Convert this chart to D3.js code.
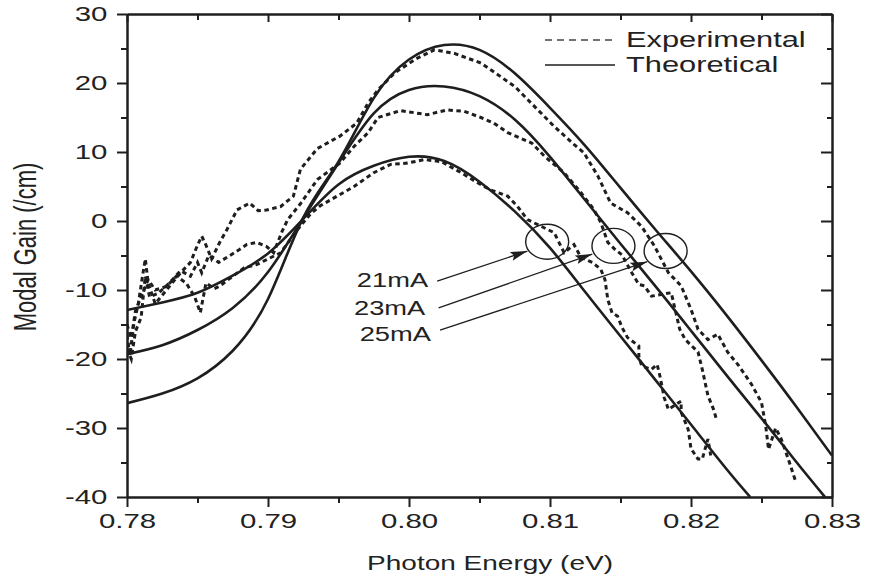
<!DOCTYPE html>
<html>
<head>
<meta charset="utf-8">
<script src="https://cdn.jsdelivr.net/npm/d3@7"></script>
<style>
  body { margin: 0; background: #fff; }
  svg text { font-family: "Liberation Sans", Arial, sans-serif; fill: #222; }
</style>
</head>
<body>
<div id="chart"></div>
<script>
// [photon energy (eV), modal gain (/cm)]
const theory21 = [[0.78,-12.9],[0.7825,-11.8],[0.785,-10.4],[0.7875,-7.9],[0.79,-4.7],[0.7925,0.3],[0.795,5.3],[0.7975,8.0],[0.80,9.3],[0.8025,8.7],[0.805,5.7],[0.8075,1.4],[0.81,-3.9],[0.8125,-10.3],[0.815,-16.7],[0.8175,-23.1],[0.82,-29.5],[0.8225,-35.9],[0.8242,-40]];
const theory23 = [[0.78,-19.3],[0.7825,-18.0],[0.785,-15.8],[0.7875,-12.6],[0.79,-7.4],[0.7925,0.4],[0.795,8.4],[0.7975,15.6],[0.80,19.0],[0.8025,19.5],[0.805,18.1],[0.8075,14.7],[0.81,9.3],[0.8125,3.0],[0.815,-3.3],[0.8175,-9.5],[0.82,-15.9],[0.8225,-22.3],[0.825,-28.6],[0.8275,-35.0],[0.8295,-40]];
const theory25 = [[0.78,-26.4],[0.7825,-25.0],[0.785,-22.8],[0.7875,-18.8],[0.79,-11.3],[0.7925,0.5],[0.795,8.6],[0.7975,17.8],[0.80,23.4],[0.8025,25.5],[0.805,24.8],[0.8075,21.4],[0.81,16.4],[0.8125,10.9],[0.815,4.8],[0.8175,-1.3],[0.82,-7.3],[0.8225,-13.6],[0.825,-20.2],[0.8275,-27.0],[0.83,-34.0]];

const exp21 = [[0.7800,-15],[0.7803,-17],[0.7806,-13],[0.7810,-11],[0.7815,-8.5],[0.7820,-10],[0.7828,-9.5],[0.7835,-8],[0.7842,-9],[0.7848,-11],[0.7852,-13.3],[0.7856,-9],[0.7862,-9.8],[0.7866,-9.4],[0.7875,-8],[0.7883,-6.8],[0.7892,-6.3],[0.7900,-5.5],[0.7909,-4.6],[0.7920,-1.5],[0.7930,1.0],[0.7937,2.2],[0.7949,3.6],[0.7961,5.0],[0.7975,7.0],[0.7987,8.2],[0.7999,8.4],[0.8011,8.9],[0.8023,8.6],[0.8037,7.0],[0.8049,5.5],[0.8058,4.5],[0.8070,3.6],[0.8077,2.1],[0.8084,0.2],[0.8094,-0.8],[0.8103,-1.7],[0.8110,-4.6],[0.8117,-3.4],[0.8122,-5.3],[0.8130,-6],[0.8136,-7],[0.8139,-8.5],[0.8141,-11.4],[0.8144,-13.3],[0.8148,-13.8],[0.8151,-15.4],[0.8155,-16.9],[0.8163,-18.1],[0.8163,-19.6],[0.8165,-21],[0.8172,-21.5],[0.8176,-20.8],[0.8178,-22.5],[0.8181,-25.6],[0.8184,-27.3],[0.8190,-26.5],[0.8193,-26.1],[0.8193,-27.7],[0.8198,-30.2],[0.8200,-33],[0.8205,-34.5],[0.8208,-34.5],[0.8212,-31.6],[0.8214,-34]];
const exp23 = [[0.7800,-18.5],[0.7803,-20],[0.7806,-16],[0.7810,-14],[0.7813,-8],[0.7816,-11],[0.7822,-10.5],[0.7830,-9],[0.7838,-7.2],[0.7845,-8],[0.7850,-6],[0.7853,-7.5],[0.7858,-5],[0.7865,-6],[0.7873,-5],[0.7880,-4.1],[0.7885,-3.4],[0.7892,-3.1],[0.7899,-3.7],[0.7904,-4.6],[0.7910,-1.5],[0.7914,0.2],[0.7923,2.5],[0.7935,6.0],[0.7951,8.4],[0.7961,10.8],[0.7971,12.8],[0.7978,15.0],[0.7994,16.0],[0.8013,15.4],[0.8027,16.1],[0.8039,15.9],[0.8051,15.0],[0.8060,14.2],[0.8070,12.8],[0.8087,11.3],[0.8096,9.4],[0.8110,7.0],[0.8122,4.1],[0.8131,1.7],[0.8136,-0.2],[0.8141,-3.1],[0.8146,-4.1],[0.8151,-4.9],[0.8158,-7.5],[0.8163,-9.2],[0.8167,-9.4],[0.8172,-10.9],[0.8180,-10.6],[0.8186,-10.4],[0.8192,-15.7],[0.8196,-17.2],[0.8205,-19],[0.8208,-21.5],[0.8210,-23.4],[0.8212,-25.3],[0.8216,-27.3],[0.8218,-28.7]];
const exp25 = [[0.7800,-16.5],[0.7802,-19.5],[0.7805,-14.7],[0.7808,-12],[0.7811,-8],[0.7813,-5.5],[0.7815,-9],[0.7820,-12],[0.7826,-10.5],[0.7832,-9],[0.7838,-7.5],[0.7845,-6],[0.7850,-3.5],[0.7853,-2.2],[0.7856,-3.5],[0.7860,-5.5],[0.7866,-3],[0.7871,-1.2],[0.7878,1.6],[0.7887,2.6],[0.7893,1.5],[0.7899,1.6],[0.7909,2.1],[0.7918,3.6],[0.7923,7.5],[0.7935,10.5],[0.7951,12.3],[0.7963,14.2],[0.7971,17.1],[0.7978,19.0],[0.7990,21.5],[0.8005,23.5],[0.8018,24.8],[0.8032,24.3],[0.8051,22.9],[0.8075,19.5],[0.8103,13.7],[0.8117,11.1],[0.8124,9.9],[0.8134,6.5],[0.8143,2.6],[0.8155,1.2],[0.8165,-0.8],[0.8174,-3.6],[0.8184,-7.5],[0.8193,-9.4],[0.8200,-12.8],[0.8205,-15.7],[0.8212,-17.2],[0.8219,-16.4],[0.8226,-19],[0.8234,-21],[0.8243,-23.7],[0.8250,-26.3],[0.8253,-29.7],[0.8255,-33.1],[0.8260,-30],[0.8264,-31.6],[0.8269,-34.5],[0.8274,-37.6]];

const xMajor = [0.78, 0.79, 0.80, 0.81, 0.82, 0.83];
const xMinor = [0.785, 0.795, 0.805, 0.815, 0.825];
const yMajor = [-40, -30, -20, -10, 0, 10, 20, 30];
const yMinor = [-35, -25, -15, -5, 5, 15, 25];

// annotation: current labels, arrow tails/tips and circled points (data units)
const currents = ["21mA", "23mA", "25mA"];
const labelAt = [[0.7963, -9.6], [0.7961, -13.6], [0.7965, -17.4]];
const arrowFrom = [[0.8020, -8.7], [0.8021, -12.6], [0.8022, -15.8]];
const arrowTo = [[0.8084, -4.35], [0.8130, -4.8], [0.8169, -5.9]];
const circled = [[0.8098, -3.0], [0.8145, -3.6], [0.8182, -4.35]];

const width = 873, height = 582;
const SX = 1.4;   // the original lettering is stretched sideways
const x = d3.scaleLinear().domain([0.78, 0.83]).range([127, 832]);
const y = d3.scaleLinear().domain([-40, 30]).range([497, 14]);

const svg = d3.select("#chart").append("svg")
  .attr("width", width).attr("height", height);

svg.append("clipPath").attr("id", "plot")
  .append("rect").attr("x", 127).attr("y", 14).attr("width", 705).attr("height", 483);

const ink = "#1e1e1e";

// axes: bottom / left out-ticks with labels, top / right in-ticks
function drawAxis(gen, tx, ty, vals, size, labels, pad) {
  const g = svg.append("g")
    .attr("transform", "translate(" + tx + "," + ty + ")")
    .call(gen.tickValues(vals).tickSizeInner(size).tickSizeOuter(0)
      .tickPadding(pad || 3)
      .tickFormat(labels ? labels : ""));
  g.select(".domain").attr("stroke", ink).attr("stroke-width", 2);
  g.selectAll(".tick line").attr("stroke", ink).attr("stroke-width", 2);
  g.selectAll("text")
    .attr("transform", "scale(" + SX + ",1)")
    .style("font-size", "21px").attr("fill", ink);
  return g;
}
drawAxis(d3.axisBottom(x), 0, 497, xMajor, 10, d => d.toFixed(2), 6);
drawAxis(d3.axisBottom(x), 0, 497, xMinor, 6, null);
drawAxis(d3.axisTop(x), 0, 14, xMajor, -8, null);
drawAxis(d3.axisTop(x), 0, 14, xMinor, -6, null);
drawAxis(d3.axisLeft(y), 127, 0, yMajor, 10, d => String(d), 4);
drawAxis(d3.axisLeft(y), 127, 0, yMinor, 6, null);
drawAxis(d3.axisRight(y), 832, 0, yMajor, -11, null);
drawAxis(d3.axisRight(y), 832, 0, yMinor, -5, null);

// axis titles
svg.append("text")
  .attr("transform", "translate(490,570) scale(" + SX + ",1)")
  .attr("text-anchor", "middle").style("font-size", "20px")
  .text("Photon Energy (eV)");
svg.append("text")
  .attr("transform", "translate(36,247) scale(" + SX + ",1) rotate(-90)")
  .attr("text-anchor", "middle").style("font-size", "22px")
  .text("Modal Gain (/cm)");

// curves
const plot = svg.append("g").attr("clip-path", "url(#plot)");
const smooth = d3.line().x(d => x(d[0])).y(d => y(d[1])).curve(d3.curveNatural);
const jagged = d3.line().x(d => x(d[0])).y(d => y(d[1]));

[exp21, exp23, exp25].forEach(s => {
  plot.append("path").datum(s)
    .attr("d", jagged)
    .attr("fill", "none").attr("stroke", ink)
    .attr("stroke-width", 3).attr("stroke-dasharray", "4.5,3.5");
});
[theory21, theory23, theory25].forEach(s => {
  plot.append("path").datum(s)
    .attr("d", smooth)
    .attr("fill", "none").attr("stroke", ink).attr("stroke-width", 2.6);
});

// circles round the marked points
svg.selectAll(".ring").data(circled).enter().append("ellipse")
  .attr("cx", d => x(d[0])).attr("cy", d => y(d[1]))
  .attr("rx", 21.5).attr("ry", 17.5)
  .attr("fill", "none").attr("stroke", ink).attr("stroke-width", 1.4);

// arrows
svg.append("defs").append("marker")
  .attr("id", "head").attr("markerUnits", "userSpaceOnUse")
  .attr("markerWidth", 18).attr("markerHeight", 10)
  .attr("refX", 17).attr("refY", 4.5).attr("orient", "auto")
  .append("path").attr("d", "M0,0 L17,4.5 L0,9 L3,4.5 Z").attr("fill", ink);

svg.selectAll(".arrow").data(arrowFrom).enter().append("line")
  .attr("x1", d => x(d[0])).attr("y1", d => y(d[1]))
  .attr("x2", (d, i) => x(arrowTo[i][0])).attr("y2", (d, i) => y(arrowTo[i][1]))
  .attr("stroke", ink).attr("stroke-width", 1.3)
  .attr("marker-end", "url(#head)");

svg.selectAll(".cur").data(currents).enter().append("text")
  .attr("transform", (d, i) => "translate(" + x(labelAt[i][0]) + "," + y(labelAt[i][1]) + ") scale(" + SX + ",1)")
  .style("font-size", "19.5px")
  .text(d => d);

// legend
const legend = svg.append("g");
legend.append("line").attr("x1", 545).attr("x2", 615).attr("y1", 40).attr("y2", 40)
  .attr("stroke", "#444").attr("stroke-width", 1.6).attr("stroke-dasharray", "7,5");
legend.append("line").attr("x1", 545).attr("x2", 615).attr("y1", 65).attr("y2", 65)
  .attr("stroke", ink).attr("stroke-width", 1.6);
legend.append("text").attr("transform", "translate(626,47) scale(" + SX + ",1)")
  .style("font-size", "22px").text("Experimental");
legend.append("text").attr("transform", "translate(626,72) scale(" + SX + ",1)")
  .style("font-size", "22px").text("Theoretical");
</script>
</body>
</html>
